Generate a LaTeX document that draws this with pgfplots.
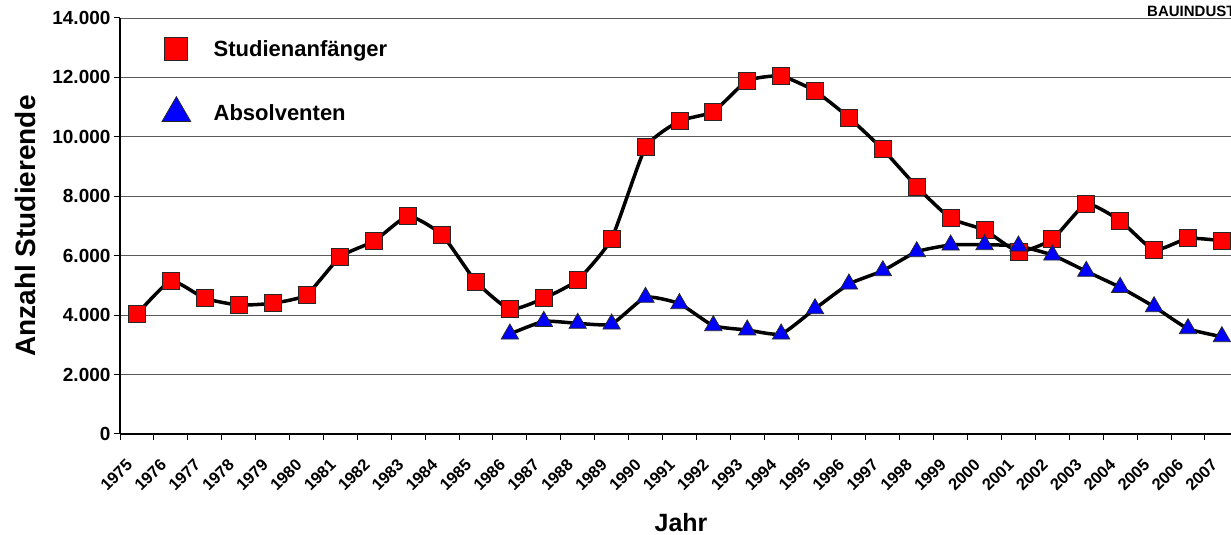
\documentclass[border=0pt]{standalone}
\usepackage{fontspec}
\setmainfont{Liberation Sans}
\usepackage{pgfplots}
\pgfplotsset{compat=1.18}
\begin{document}
\begin{tikzpicture}
\useasboundingbox (0,0) rectangle (1231pt,535pt);
\begin{scope}
\clip (0,0) rectangle (1231pt,535pt);
\begin{axis}[
  at={(120pt,101pt)}, anchor=south west,
  scale only axis, width=1111pt, height=416pt,
  xmin=-0.5, xmax=32.27, ymin=0, ymax=14000,
  axis lines=left, axis line style={-, black, line width=1.2pt},
  tick align=outside,
  ytick={0,2000,...,14000},
  scaled y ticks=false,
  /pgf/number format/.cd, 1000 sep={.}, assume math mode=true, /pgfplots/.cd,
  yticklabel style={font=\bfseries\fontsize{19}{22}\selectfont},
  major y tick style={black, line width=1pt},
  major tick length=6pt,
  xtick={0,...,32},
  xticklabels={1975,1976,1977,1978,1979,1980,1981,1982,1983,1984,1985,1986,1987,1988,1989,1990,1991,1992,1993,1994,1995,1996,1997,1998,1999,2000,2001,2002,2003,2004,2005,2006,2007},
  major x tick style={draw=none},
  minor xtick={-0.5,0.5,...,32.5},
  minor x tick style={black, line width=1pt},
  minor tick length=6pt,
  xticklabel style={font=\bfseries\fontsize{16.5}{19}\selectfont, xshift=-20.5pt, yshift=-35pt, rotate=45, anchor=center},
  ymajorgrids,
  major grid style={black!65, line width=0.9pt},
  xlabel={Jahr},
  xlabel style={font=\bfseries\fontsize{25}{30}\selectfont, at={(axis description cs:0.505,-0.214)}, anchor=center},
  ylabel={Anzahl Studierende},
  ylabel style={font=\bfseries\fontsize{28}{32}\selectfont, at={(axis description cs:-0.0855,0.5)}, anchor=center},
  legend style={at={(axis description cs:0.035,0.958)}, anchor=north west, draw=none, fill=none,
    font=\bfseries\fontsize{22}{26}\selectfont, row sep=36pt, column sep=21pt},
  legend cell align=left,
  clip=false,
]
\addplot[black, line width=3.5pt, smooth, tension=0.3,
  mark=square*, mark size=8.5pt, mark options={fill=red, draw=black!85, line width=0.8pt}, forget plot]
coordinates {
(0,4030)(1,5150)(2,4565)(3,4340)(4,4400)(5,4680)(6,5970)(7,6495)(8,7336)(9,6700)
(10,5126)(11,4195)(12,4565)(13,5182)(14,6573)(15,9646)(16,10532)(17,10847)(18,11889)(19,12047)
(20,11542)(21,10650)(22,9579)(23,8322)(24,7258)(25,6865)(26,6135)(27,6551)(28,7740)(29,7178)
(30,6192)(31,6585)(32,6505)};
\addplot[black, line width=3.5pt, smooth, tension=0.3,
  mark=triangle*, mark size=10pt, mark options={fill=blue, draw=black!85, line width=0.8pt}, forget plot]
coordinates {
(11,3365)(12,3791)(13,3724)(14,3701)(15,4599)(16,4386)(17,3645)(18,3500)(19,3365)
(20,4217)(21,5047)(22,5495)(23,6135)(24,6360)(25,6371)(26,6326)(27,6023)(28,5474)(29,4935)
(30,4285)(31,3544)(32,3275)};
\addlegendimage{only marks, mark=square*, mark size=11.5pt, mark options={fill=red, draw=black!85, line width=0.8pt}}
\addlegendentry{Studienanfänger}
\addlegendimage{only marks, mark=triangle*, mark size=16.5pt, mark options={fill=blue, draw=black!85, line width=0.8pt}}
\addlegendentry{Absolventen}
\end{axis}
\node[anchor=base west, inner sep=0pt, font=\bfseries\fontsize{15}{18}\selectfont] at (1147pt,518pt) {BAUINDUSTRIE};
\end{scope}
\end{tikzpicture}
\end{document}
